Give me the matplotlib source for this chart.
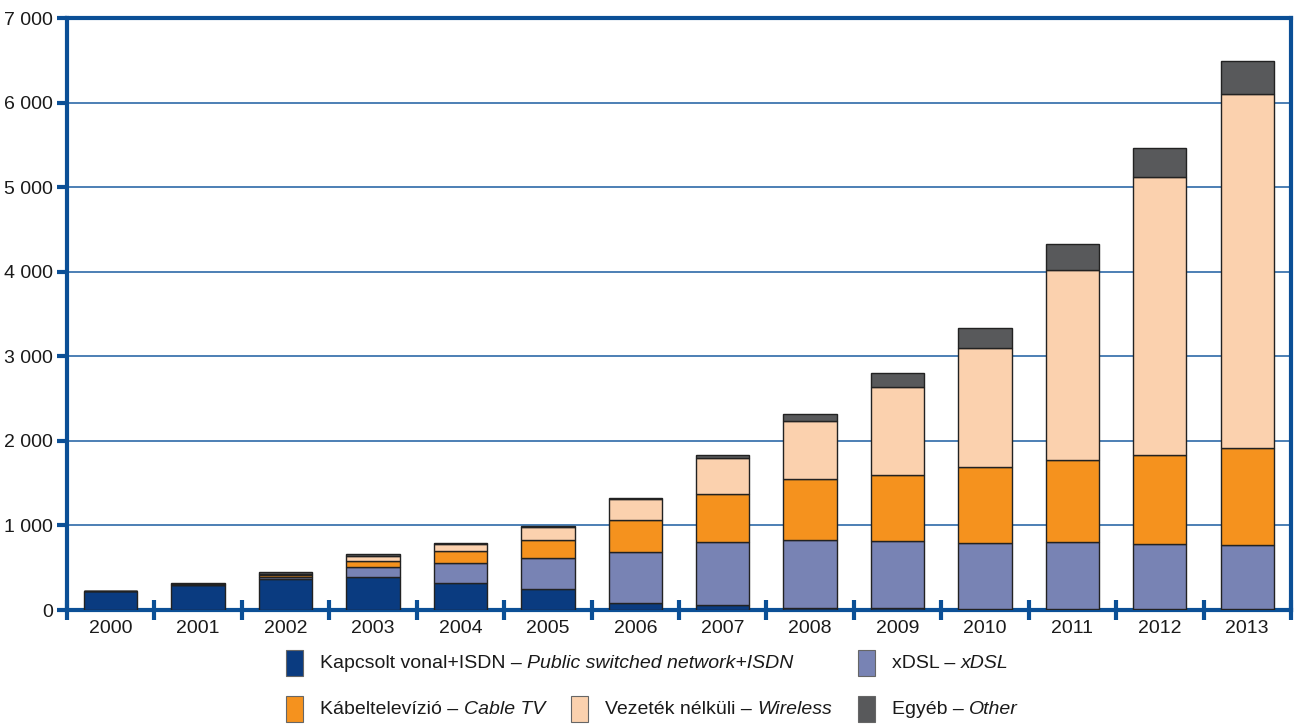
import matplotlib
matplotlib.use("Agg")
import matplotlib.pyplot as plt
from matplotlib.patches import Rectangle
from matplotlib import font_manager
import numpy as np

# data
years = ['2000', '2001', '2002', '2003', '2004', '2005', '2006',
         '2007', '2008', '2009', '2010', '2011', '2012', '2013']
pstn = [225, 292, 363, 390, 319, 245, 86, 63, 27, 20, 15, 12, 10, 8]
xdsl = [0, 4, 22, 115, 233, 370, 596, 737, 804, 796, 781, 792, 770, 764]
cable = [0, 12, 33, 74, 142, 212, 378, 568, 717, 780, 894, 965, 1056, 1143]
wireless = [0, 4, 12, 63, 82, 150, 252, 432, 682, 1040, 1407, 2254, 3290, 4188]
other = [3, 11, 16, 23, 19, 16, 15, 32, 83, 161, 240, 303, 338, 383]

series = [pstn, xdsl, cable, wireless, other]
colors = ['#0a3b80', '#7883b4', '#f5921e', '#fbd1ae', '#58595b']
labels_hu = ['Kapcsolt vonal+ISDN – ', 'xDSL – ', 'Kábeltelevízió – ',
             'Vezeték nélküli – ', 'Egyéb – ']
labels_en = ['Public switched network+ISDN', 'xDSL', 'Cable TV',
             'Wireless', 'Other']

avail = {f.name for f in font_manager.fontManager.ttflist}
fam = 'Liberation Sans Narrow' if 'Liberation Sans Narrow' in avail else 'Liberation Sans'
plt.rcParams['font.family'] = [fam, 'DejaVu Sans']
fs = 14 if fam == 'Liberation Sans' else 16
plt.rcParams['font.size'] = fs

blue = '#0b4f96'

fig = plt.figure(figsize=(12.96, 7.27), dpi=100)
ax = fig.add_axes([0.0517, 0.1609, 0.9444, 0.8143])

x = np.arange(len(years))
bottom = np.zeros(len(years))
for vals, c in zip(series, colors):
    ax.bar(x, vals, width=0.61, bottom=bottom, color=c,
           edgecolor='#222222', linewidth=1.0, zorder=3)
    bottom += np.array(vals)

ax.set_xlim(-0.5, len(years) - 0.5)
ax.set_ylim(0, 7000)
ax.set_yticks(np.arange(0, 7001, 1000))
ax.set_yticklabels([f'{v:,}'.replace(',', ' ') for v in range(0, 7001, 1000)],
                   color='#1a1a1a')
ax.yaxis.grid(True, color='#2e6aa8', linewidth=1.2, zorder=1)
ax.set_axisbelow(True)

# category labels between boundary ticks
ax.set_xticks(np.arange(-0.5, len(years), 1.0))
ax.set_xticklabels([])
ax.set_xticks(x, minor=True)
ax.set_xticklabels(years, minor=True, color='#1a1a1a')
ax.tick_params(axis='x', which='minor', length=0, pad=7)
ax.tick_params(axis='x', which='major', direction='inout', length=14,
               width=3, color=blue)
ax.tick_params(axis='y', direction='out', length=7, width=3, color=blue, pad=3)

for s in ax.spines.values():
    s.set_color(blue)
    s.set_linewidth(3)

# legend drawn below the plot
fig.canvas.draw()
renderer = fig.canvas.get_renderer()
slots = [(286, 663), (858, 663), (286, 709), (571, 709), (858, 709)]
W, H = 1296, 727
for (px, py), c, hu, en in zip(slots, colors, labels_hu, labels_en):
    fig.add_artist(Rectangle((px / W, (H - py - 13) / H), 17 / W, 26 / H,
                             transform=fig.transFigure, facecolor=c,
                             edgecolor='#666666', linewidth=0.8))
    t = fig.text((px + 34) / W, (H - py) / H, hu, va='center', ha='left',
                 color='#1a1a1a', fontsize=fs)
    bb = t.get_window_extent(renderer)
    fig.text(bb.x1 / W, (H - py) / H, en, va='center', ha='left',
             style='italic', color='#1a1a1a', fontsize=fs)

fig.savefig('out.png', dpi=100)
